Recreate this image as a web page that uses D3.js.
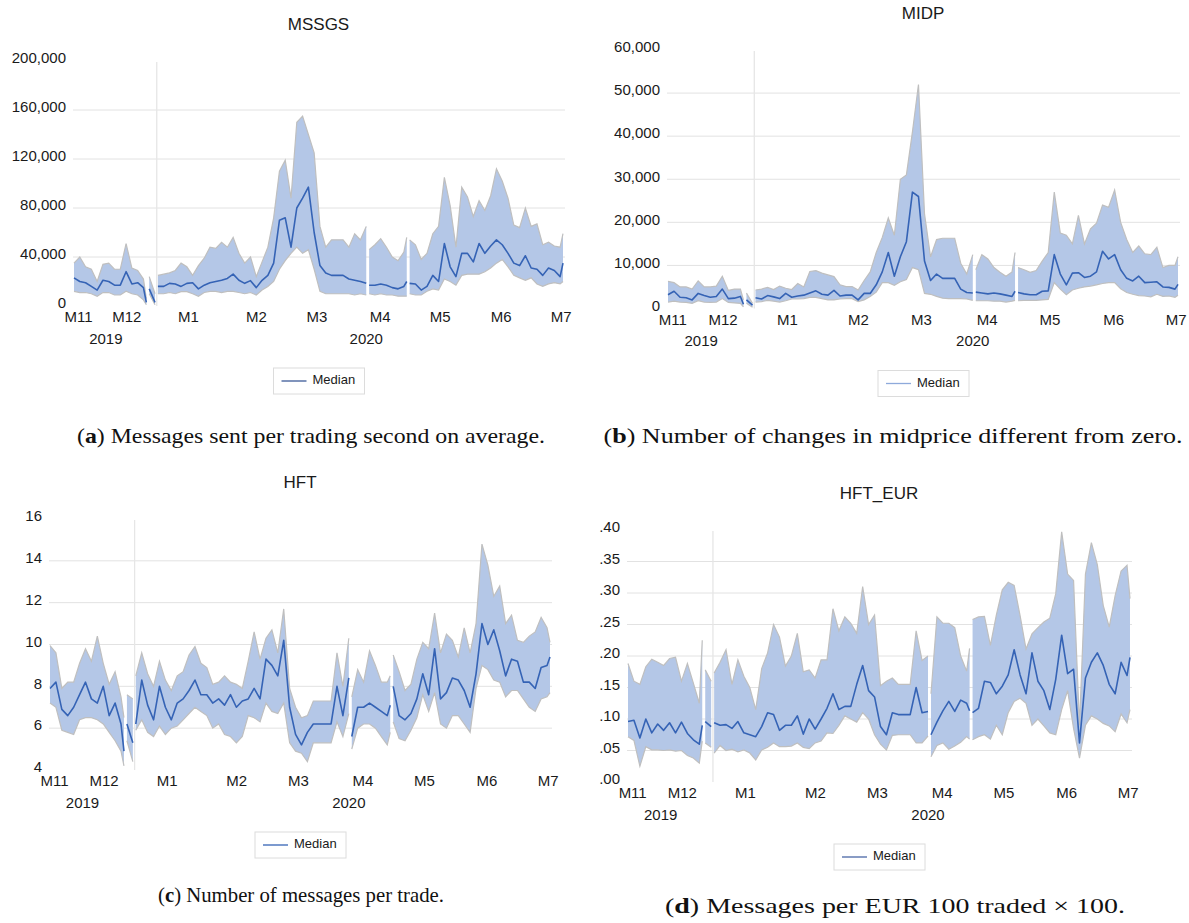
<!DOCTYPE html>
<html>
<head>
<meta charset="utf-8">
<script src="https://cdn.jsdelivr.net/npm/d3@7"></script>
<style>
  body { margin: 0; background: #fff; }
  text { font-family: "Liberation Sans", Arial, sans-serif; fill: #1a1a1a; }
  .caption { font-family: "Liberation Serif", "Times New Roman", serif; font-size: 22px; fill: #111; }
</style>
</head>
<body>
<svg id="fig" width="1189" height="923"></svg>
<script>
// trading-day positions shared by every panel (x.5 entries are the breaks in the series)
const days = [0,2,4,6,8,10,12,14,16,18,20,22,24,25, 25.5,
  26,28, 28.5,
  29,31,33,35,37,39,41,43,45,47,49,51,53,55,57,59,61,63,65,67,69,71,73,75,77,79,81,83,85,87,89,91,93,95,97,99,101, 101.5,
  102,104,106,108,110,112,114,115, 115.5,
  116,118,120,122,124,126,128,130,132,134,136,138,140,142,144,146,148,150,152,154,156,158,160,162,164,166,168,169];

const months = ["M11","M12","M1","M2","M3","M4","M5","M6","M7"];
const monthDays = [1.4, 18.1, 39.4, 62.9, 83.8, 105.6, 126.4, 147.5, 168.2];
const years = ["2019","2020"];
const yearDays = [11, 101];
const yearBreakDay = 28.6;

// (a) MSSGS
const mssgsUpper = [35000,40000,32000,30000,20000,34000,35000,30000,30000,51000,31000,29000,22000,6000, null,
  24000,10000, null,
  25000,26000,27000,29000,35000,32000,25000,33000,39000,48000, 47000,52000,48000,56000,43000,35000,40000,24000,36000,48000,
  72000,110000,119000,88000,150000,155000,140000,125000,65000,48000, 54000,54000,54000,48000,59000,54000,65000, null,
  46000,50000,55000,48000,40000,37000,44000,56000, null,
  54000,50000,38000,43000,59000,65000,105000,82000,48000,97000, 89000,73000,86000,78000,90000,112000,102000,88000,66000,64000,
  80000,65000,67000,50000,52000,49000,48000,59000];
const mssgsMedian = [23000,20000,19000,16000,13000,21000,20000,17000,17000,28000,18000,19000,15000,3000, null,
  14000,3000, null,
  16000,16000,18500,18000,16000,18500,19000,14000,17000,19000, 20000,21000,22500,26000,21000,18500,20700,15000,21000,25000,
  35000,70000,72000,48000,80000,88000,97000,60000,33000,27000, 25000,25000,25000,22000,21000,20000,18500, null,
  17000,17000,18000,17000,15000,14000,16000,20000, null,
  18500,18000,13000,16000,25000,20000,51000,32000,24000,43000, 43000,36000,51000,43000,49000,54000,50000,43000,35000,33000,
  41000,31000,30000,25000,31000,29000,24000,35000];
const mssgsLower = [12000,11000,11000,10000,8000,11000,11000,9000,9000,12000,10000,9000,5000,1000, null,
  10000,1000, null,
  10000,10000,11000,10000,11700,11700,10000,8000,11000,12000, 12000,11000,12000,12000,11000,10000,11000,9000,13000,16000,
  20000,30000,37000,43000,48000,43000,46000,30000,12000,10000, 10000,10000,10000,10000,9000,10000,9000, null,
  10000,9000,10000,9000,9000,8000,8000,8000, null,
  10000,9000,9000,12000,14000,13000,22000,20000,17000,25000, 26000,26000,26000,28000,31000,35000,38000,32000,25000,23000,
  21000,23000,18000,16000,18000,19000,18000,20000];
const mssgsTicks = [0,40000,80000,120000,160000,200000];

// (b) MIDP
const midpUpper = [6300,6000,5000,5000,4500,6400,5000,5000,5200,7500,4200,4500,4500,2000, null,
  3600,1200, null,
  4300,4500,4900,4400,5200,4700,4400,5800,5000,8600, 8800,8200,7800,7400,5500,5100,5100,4300,6500,8500,
  13000,16500,21000,17000,30000,31000,41000,52000,22000,12000, 16000,16300,16300,16300,10500,8000,12500, null,
  9000,12500,11500,9500,8400,7500,8500,13000, null,
  9500,9000,8400,8800,11000,13000,27000,17500,17000,15000, 21600,15000,18500,19800,24000,23500,27500,20000,16000,13000,
  14500,12700,12500,14200,9500,10000,10000,12000];
const midpMedian = [3200,4000,2600,2500,2000,3500,3000,2600,2800,4500,2300,2400,2800,1000, null,
  2000,800, null,
  2500,2200,3000,2700,2300,3500,2600,2900,3100,3600, 4100,3300,3100,4200,2900,3100,3100,2000,3500,3500,
  5500,8500,13000,7500,12000,15500,27000,26000,11000,6500, 8000,7000,7000,7000,4500,3700,3600, null,
  3800,3600,3400,3600,3400,3100,2800,4000, null,
  3700,3400,3200,3200,4000,4100,12500,8000,5500,8200, 8300,7200,7500,8500,13300,11500,12500,9000,7000,6400,
  7500,6000,6100,6200,5000,4900,4500,5600];
const midpLower = [1500,1700,1500,1400,1200,1800,1500,1400,1500,2300,1400,1300,1200,400, null,
  1200,300, null,
  1500,1600,1900,1700,1500,1800,2200,2200,2300,2600, 2600,2300,2000,2000,2200,2300,2300,1600,2000,2800,
  3800,6000,6000,5400,6200,6700,9500,9000,3500,3300, 2800,2400,2300,2300,2300,2200,1900, null,
  1800,1800,1800,1700,1700,1500,1700,1900, null,
  1800,1900,1900,1900,2000,2100,6000,4500,3200,4300, 4700,5000,5200,5500,5800,6000,6000,4600,3700,3300,
  3000,2900,2700,3300,2800,2900,2600,3100];
const midpTicks = [0,10000,20000,30000,40000,50000,60000];

// (c) HFT
const hftUpper = [9.95,9.6,7.9,8.2,8.2,9.1,9.8,9.2,10.4,9.1,8.1,8.7,7.5,6.5, null,
  7.6,7.4, null,
  8.5,9.6,8.6,8.0,9.2,8.3,7.8,8.5,8.7,9.5, 9.9,9.1,8.9,8.1,8.2,8.5,8.2,8.1,7.9,9.2,
  10.6,9.3,10.3,10.7,9.6,11.7,7.9,7.0,6.5,6.6, 7.3,7.3,7.3,7.3,9.6,8.0,10.3, null,
  7.5,8.8,8.2,9.7,9.0,8.2,8.2,8.5, null,
  9.5,8.7,7.8,8.1,9.3,10.1,9.8,11.5,9.6,10.5, 10.2,9.4,10.8,9.6,11.0,14.8,13.8,12.3,12.8,11.0,
  11.4,10.2,10.1,10.4,10.6,11.3,10.8,10.1];
const hftMedian = [7.9,8.2,6.9,6.6,7.0,7.6,8.2,7.4,7.2,8.0,6.6,7.2,6.2,4.9, null,
  6.2,5.3, null,
  6.2,8.3,7.1,6.4,8.0,7.0,6.4,7.2,7.4,7.8, 8.3,7.6,7.6,7.2,7.4,7.1,7.6,7.0,7.3,7.4,
  7.9,7.4,9.3,9.0,8.5,10.2,7.0,5.7,5.2,5.8, 6.2,6.2,6.2,6.2,8.0,6.6,8.4, null,
  5.6,7.0,7.0,7.2,7.0,6.8,6.6,7.1, null,
  8.0,6.6,6.4,6.7,7.4,8.6,7.6,9.8,7.4,7.7, 8.4,8.3,7.8,7.0,8.6,11.0,10.0,10.7,9.7,8.5,
  9.3,9.2,8.2,8.2,7.9,8.9,9.0,9.4];
const hftLower = [7.2,7.0,5.9,5.8,5.7,6.4,6.5,6.5,6.4,6.2,5.8,5.4,4.9,4.2, null,
  5.4,4.4, null,
  5.9,6.4,5.8,5.6,6.1,5.7,6.0,6.1,6.4,6.7, 7.0,6.8,6.6,6.0,6.2,5.7,5.6,5.3,5.6,6.6,
  6.5,6.3,7.2,6.8,6.7,7.2,5.3,4.9,4.8,4.4, 5.3,5.3,5.3,5.3,6.3,5.6,6.7, null,
  5.0,6.0,6.2,6.2,6.0,5.6,5.2,5.8, null,
  6.3,5.5,5.4,5.9,6.5,7.6,6.8,7.7,6.2,6.0, 6.6,6.6,6.2,5.8,7.9,9.0,8.8,8.3,8.2,7.5,
  7.8,7.8,7.4,7.0,6.8,7.4,7.5,7.7];
const hftTicks = [4,6,8,10,12,14,16];

// (d) HFT_EUR
const eurUpper = [.188,.160,.155,.183,.195,.190,.185,.196,.198,.160,.188,.157,.125,.225, null,
  .178,.160, null,
  .173,.190,.210,.155,.194,.168,.150,.115,.180,.205, .250,.230,.184,.200,.236,.175,.178,.165,.194,.194,
  .275,.240,.262,.252,.236,.310,.250,.265,.153,.160, .165,.155,.155,.155,.240,.193,.200, null,
  .140,.262,.252,.252,.245,.200,.176,.212, null,
  .258,.262,.263,.217,.265,.305,.317,.312,.264,.211, .235,.245,.254,.260,.299,.397,.330,.320,.090,.330,
  .380,.345,.280,.246,.296,.335,.344,.291];
const eurMedian = [.096,.098,.070,.100,.078,.092,.082,.094,.078,.095,.077,.067,.060,.090, null,
  .096,.088, null,
  .094,.090,.091,.085,.096,.078,.075,.072,.088,.110, .107,.082,.090,.090,.105,.076,.100,.084,.100,.117,
  .140,.115,.120,.120,.155,.185,.145,.135,.088,.075, .110,.107,.107,.107,.150,.110,.112, null,
  .075,.095,.113,.128,.112,.130,.125,.113, null,
  .110,.117,.160,.158,.140,.152,.170,.210,.170,.140, .205,.160,.145,.115,.163,.233,.172,.179,.062,.165,
  .190,.205,.185,.155,.140,.190,.169,.198];
const eurLower = [.072,.066,.025,.056,.051,.051,.050,.051,.049,.050,.042,.038,.030,.065, null,
  .062,.055, null,
  .046,.058,.050,.052,.048,.051,.046,.035,.051,.055, .062,.056,.056,.057,.062,.055,.053,.062,.065,.078,
  .077,.090,.105,.100,.095,.110,.100,.075,.060,.051, .074,.075,.075,.075,.062,.062,.073, null,
  .040,.058,.062,.052,.057,.063,.072,.068, null,
  .067,.072,.075,.068,.090,.075,.110,.128,.133,.125, .090,.100,.089,.078,.075,.115,.145,.085,.038,.090,
  .105,.100,.093,.089,.080,.108,.094,.115];
const eurTicks = [0,.05,.10,.15,.20,.25,.30,.35,.40];

const bandFill = "#b4c7e7", bandEdge = "#bfbfbf", medianColor = "#3563b5";

const panels = [
  {title: "MSSGS", upper: mssgsUpper, median: mssgsMedian, lower: mssgsLower, ticks: mssgsTicks,
   fmt: d3.format(","), left: 74, right: 563, top: 61, bottom: 306, legendLine: "#3b5a98",
   caption: ["a", ") Messages sent per trading second on average."], capX: 311, capY: 443, capW: 468},
  {title: "MIDP", upper: midpUpper, median: midpMedian, lower: midpLower, ticks: midpTicks,
   fmt: d3.format(","), left: 668, right: 1178, top: 50, bottom: 308.5, legendLine: "#8eaadb",
   caption: ["b", ") Number of changes in midprice different from zero."], capX: 893, capY: 443, capW: 579},
  {title: "HFT", upper: hftUpper, median: hftMedian, lower: hftLower, ticks: hftTicks,
   fmt: d3.format("d"), left: 50, right: 550, top: 519, bottom: 770, legendLine: medianColor,
   caption: ["c", ") Number of messages per trade."], capX: 301, capY: 902, capW: 286},
  {title: "HFT_EUR", upper: eurUpper, median: eurMedian, lower: eurLower, ticks: eurTicks,
   fmt: v => d3.format(".2f")(v).replace(/^0/, ""), left: 628, right: 1130, top: 530, bottom: 782, legendLine: "#4a66a6",
   caption: ["d", ") Messages per EUR 100 traded \u00d7 100."], capX: 895, capY: 913, capW: 460}
];

const svg = d3.select("#fig");
svg.append("rect").attr("width", 1189).attr("height", 923).attr("fill", "#fff");

function drawPanel(p) {
  const g = svg.append("g");
  const x = d3.scaleLinear().domain([0, 169]).range([p.left, p.right]);
  const y = d3.scaleLinear().domain([p.ticks[0], p.ticks[p.ticks.length - 1]]).range([p.bottom, p.top]);

  // horizontal gridlines (none at the very top and bottom)
  g.selectAll("line.grid").data(p.ticks.slice(1, -1)).join("line")
    .attr("x1", p.left - 1).attr("x2", p.right + 2)
    .attr("y1", d => y(d)).attr("y2", d => y(d))
    .attr("stroke", "#e2e2e2").attr("stroke-width", 1);

  // year break
  g.append("line")
    .attr("x1", x(yearBreakDay)).attr("x2", x(yearBreakDay))
    .attr("y1", p.top + 1).attr("y2", p.bottom)
    .attr("stroke", "#e6e6e6").attr("stroke-width", 1.3);

  const rows = days.map((d, i) => ({d: d, u: p.upper[i], m: p.median[i], l: p.lower[i]}));
  const ok = r => r.u != null;

  g.append("path").datum(rows)
    .attr("d", d3.area().defined(ok).x(r => x(r.d)).y0(r => y(r.l)).y1(r => y(r.u)))
    .attr("fill", bandFill);
  ["u", "l"].forEach(k => {
    g.append("path").datum(rows)
      .attr("d", d3.line().defined(ok).x(r => x(r.d)).y(r => y(r[k])))
      .attr("fill", "none").attr("stroke", bandEdge).attr("stroke-width", 1.2);
  });
  g.append("path").datum(rows)
    .attr("d", d3.line().defined(ok).x(r => x(r.d)).y(r => y(r.m)))
    .attr("fill", "none").attr("stroke", medianColor).attr("stroke-width", 1.6)
    .attr("stroke-linejoin", "round");

  // y axis labels
  const ya = g.append("g").attr("transform", `translate(${p.left},0)`)
    .call(d3.axisLeft(y).tickValues(p.ticks).tickFormat(p.fmt).tickSize(0).tickPadding(8));
  ya.select(".domain").remove();
  ya.selectAll("text").attr("y", -3).attr("font-size", 15)
    .attr("font-family", "Liberation Sans, Arial, sans-serif").attr("fill", "#1a1a1a");

  // x axis month labels
  const xa = g.append("g").attr("transform", `translate(0,${p.bottom})`)
    .call(d3.axisBottom(x).tickValues(monthDays).tickFormat((d, i) => months[i]).tickSize(0).tickPadding(0));
  xa.select(".domain").remove();
  xa.selectAll("text").attr("y", 11).attr("dy", "0.35em").attr("font-size", 15)
    .attr("font-family", "Liberation Sans, Arial, sans-serif").attr("fill", "#1a1a1a");

  g.selectAll("text.year").data(years).join("text")
    .attr("x", (d, i) => x(yearDays[i])).attr("y", p.bottom + 34)
    .attr("text-anchor", "middle").attr("dominant-baseline", "middle")
    .attr("font-size", 15).text(d => d);

  const mid = (p.left + p.right) / 2;
  g.append("text").attr("x", mid).attr("y", p.top - 35)
    .attr("text-anchor", "middle").attr("dominant-baseline", "middle")
    .attr("font-size", 17).text(p.title);

  // legend
  const lg = g.append("g").attr("transform", `translate(${mid - 45},${p.bottom + 62})`);
  lg.append("rect").attr("width", 91).attr("height", 26)
    .attr("fill", "#fff").attr("stroke", "#dcdcdc");
  lg.append("line").attr("x1", 8).attr("x2", 33).attr("y1", 13).attr("y2", 13)
    .attr("stroke", p.legendLine).attr("stroke-width", 1.3);
  lg.append("text").attr("x", 39).attr("y", 13).attr("dominant-baseline", "middle")
    .attr("font-size", 13).text("Median");

  // caption
  const cap = svg.append("text").attr("class", "caption")
    .attr("x", p.capX).attr("y", p.capY).attr("text-anchor", "middle")
    .attr("textLength", p.capW).attr("lengthAdjust", "spacingAndGlyphs");
  cap.append("tspan").text("(");
  cap.append("tspan").attr("font-weight", "bold").text(p.caption[0]);
  cap.append("tspan").text(p.caption[1]);
}

panels.forEach(drawPanel);
</script>
</body>
</html>
